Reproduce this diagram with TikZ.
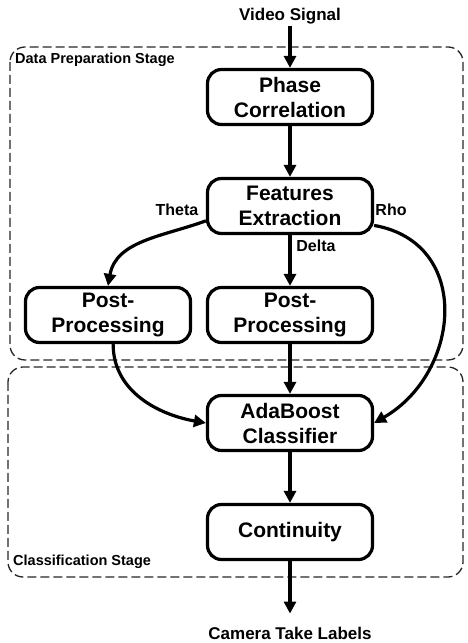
\documentclass[tikz,border=0pt]{standalone}
\usepackage{fontspec}
\setmainfont{Liberation Sans}
\usepackage{tikz}
\usetikzlibrary{arrows.meta}

\begin{document}
\begin{tikzpicture}[x=1pt,y=1pt,
	box/.style={draw=black,rectangle,rounded corners=14pt,line width=3.2pt,minimum width=165pt,minimum height=55pt,align=center,inner sep=2pt,font=\fontsize{21}{25}\selectfont\bfseries},
	lbl/.style={inner sep=2pt,font=\fontsize{17}{20}\selectfont\bfseries},
	tag/.style={inner sep=1pt,font=\fontsize{16}{19}\selectfont\bfseries},
	stagebox/.style={draw=black!85,dash pattern=on 9pt off 4pt,line width=1.3pt,rounded corners=15pt},
	stagelbl/.style={anchor=west,inner sep=1pt,font=\fontsize{14.5}{17}\selectfont\bfseries},
	arr/.style={line width=3.2pt,-{Triangle[length=12pt,width=12pt]}}]
	\useasboundingbox (0,0) rectangle (467,643);

	%stages
	\draw [stagebox] (10,596) rectangle (463,283);
	\draw [stagebox] (8,276) rectangle (463,66);
	\node [stagelbl] (s1) at (14,583) {Data Preparation Stage};
	\node [stagelbl] (s2) at (12,81) {Classification Stage};

	%nodes
	\node [lbl] (vs) at (290,627) {Video Signal};
	\node [box] (pc) at (290,546) {Phase\\Correlation};
	\node [box] (fe) at (290,437) {Features\\Extraction};
	\node [box] (pp1) at (108,328) {Post-\\Processing};
	\node [box] (pp2) at (290,328) {Post-\\Processing};
	\node [box] (ada) at (290,220) {AdaBoost\\Classifier};
	\node [box] (co) at (290,111) {Continuity};
	\node [lbl,inner ysep=13pt] (cam) at (290,10) {Camera Take Labels};

	%edges
	\draw [arr] (vs) -- (pc);
	\draw [arr] (pc) -- (fe);
	\draw [arr] (fe.190) to[out=200,in=80] (pp1.north);
	\draw [arr] (fe) -- (pp2);
	\draw [arr] (fe.-13) to[out=-10,in=30,looseness=1.3] (ada.east);
	\draw [arr] (pp1.-80) to[out=-90,in=170] (ada.west);
	\draw [arr] (pp2) -- (ada);
	\draw [arr] (ada) -- (co);
	\draw [arr] (co) -- (cam);

	%edge labels
	\node [tag] (theta) at (177,433) {Theta};
	\node [tag] (rho) at (391,433) {Rho};
	\node [tag] (delta) at (316,397) {Delta};
\end{tikzpicture}
\end{document}
